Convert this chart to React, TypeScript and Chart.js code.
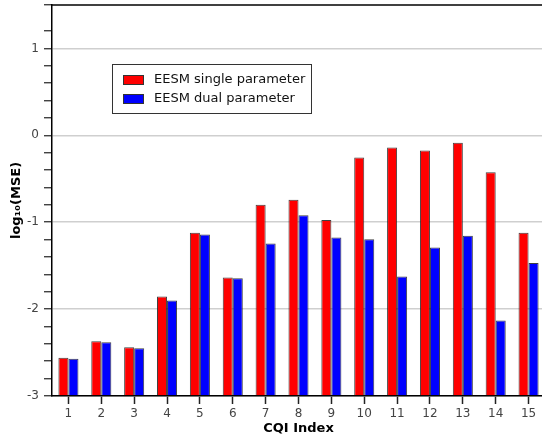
import React, { useEffect, useRef } from "react";
import { Chart, registerables } from "chart.js";

Chart.register(...registerables);

// CQI indices on the x axis
const cqiIndex = ["1", "2", "3", "4", "5", "6", "7", "8", "9", "10", "11", "12", "13", "14", "15"];

// log10 of the mean squared error per CQI index
const singleParameter = [-2.56, -2.37, -2.44, -1.855, -1.12, -1.635, -0.80, -0.74, -0.975, -0.255, -0.14, -0.175, -0.085, -0.425, -1.12];
const dualParameter = [-2.57, -2.38, -2.45, -1.90, -1.14, -1.645, -1.245, -0.92, -1.175, -1.195, -1.625, -1.29, -1.155, -2.13, -1.47];

const seriesLabels = ["EESM single parameter", "EESM dual parameter"];
const seriesColors = ["#ff0000", "#0000ff"];

const yMin = -3;
const yMax = 1.5;
const yMinorStep = 0.2;

const FONT = "'DejaVu Sans', Verdana, sans-serif";

const isInteger = (v: number) => Math.abs(v - Math.round(v)) < 1e-6;

// Boxed legend inside the plot area plus the top frame line
const framePlugin = {
  id: "frameAndLegend",
  afterDraw(chart: any) {
    const { ctx, chartArea } = chart;
    ctx.save();

    // top frame
    ctx.strokeStyle = "#000";
    ctx.lineWidth = 1.5;
    ctx.beginPath();
    ctx.moveTo(chartArea.left, chartArea.top);
    ctx.lineTo(chartArea.right, chartArea.top);
    ctx.stroke();

    // legend box
    const bx = 112.5;
    const by = 64.5;
    const bw = 199;
    const bh = 49;
    ctx.fillStyle = "#fff";
    ctx.fillRect(bx, by, bw, bh);
    ctx.strokeStyle = "#333";
    ctx.lineWidth = 1;
    ctx.strokeRect(bx, by, bw, bh);

    ctx.font = `13px ${FONT}`;
    ctx.textBaseline = "middle";
    ctx.textAlign = "left";
    chart.data.datasets.forEach((ds: any, i: number) => {
      const cy = 80 + i * 19;
      ctx.fillStyle = ds.backgroundColor;
      ctx.fillRect(123.5, cy - 4.5, 20, 9);
      ctx.strokeStyle = "#333";
      ctx.strokeRect(123.5, cy - 4.5, 20, 9);
      ctx.fillStyle = "#111";
      ctx.fillText(ds.label, 154, cy);
    });

    ctx.restore();
  },
};

export default function App() {
  const canvasRef = useRef<HTMLCanvasElement | null>(null);

  useEffect(() => {
    if (!canvasRef.current) return;
    const chart = new Chart(canvasRef.current, {
      type: "bar",
      data: {
        labels: cqiIndex,
        datasets: [
          {
            label: seriesLabels[0],
            data: singleParameter,
            backgroundColor: seriesColors[0],
            borderColor: "rgba(30,30,30,0.85)",
            borderWidth: 1,
            base: yMin,
          } as any,
          {
            label: seriesLabels[1],
            data: dualParameter,
            backgroundColor: seriesColors[1],
            borderColor: "rgba(30,30,30,0.85)",
            borderWidth: 1,
            base: yMin,
          } as any,
        ],
      },
      options: {
        responsive: false,
        animation: false,
        layout: { padding: { top: 5, left: 0, right: 0, bottom: 0 } },
        datasets: { bar: { categoryPercentage: 0.61, barPercentage: 1 } },
        plugins: {
          legend: { display: false },
          tooltip: { enabled: false },
        },
        scales: {
          x: {
            offset: true,
            grid: {
              offset: false,
              drawOnChartArea: false,
              tickLength: 8,
              tickColor: "#222",
              tickWidth: 1.5,
            },
            border: { color: "#000", width: 1.5 },
            ticks: {
              color: "#444",
              font: { family: FONT, size: 12 },
              padding: 3,
              maxRotation: 0,
              autoSkip: false,
            },
            title: {
              display: true,
              text: "CQI Index",
              color: "#000",
              font: { family: FONT, size: 13, weight: "bold" },
              padding: 0,
            },
            afterFit: (scale: any) => {
              scale.height = 40;
              scale.paddingLeft = 0;
              scale.paddingRight = 0;
            },
          },
          y: {
            min: yMin,
            max: yMax,
            ticks: {
              stepSize: yMinorStep,
              autoSkip: false,
              color: "#444",
              font: { family: FONT, size: 12 },
              padding: 5,
              callback: (v: any) => (isInteger(Number(v)) ? String(Math.round(Number(v))) : ""),
            },
            grid: {
              color: (ctx: any) =>
                ctx.tick && isInteger(ctx.tick.value) && ctx.tick.value < yMax ? "#cfcfcf" : "rgba(0,0,0,0)",
              lineWidth: 1.5,
              tickLength: 8,
              tickColor: "#222",
              tickWidth: 1.2,
            },
            border: { color: "#000", width: 1.5 },
            title: {
              display: true,
              text: "log₁₀(MSE)",
              color: "#000",
              font: { family: FONT, size: 13, weight: "bold" },
              padding: { top: 9, bottom: 0 },
            },
            afterFit: (scale: any) => {
              scale.width = 52;
              scale.paddingTop = 0;
              scale.paddingBottom = 0;
            },
          },
        },
      },
      plugins: [framePlugin],
    });
    return () => chart.destroy();
  }, []);

  return (
    <div
      style={{
        position: "fixed",
        left: 0,
        top: 0,
        width: 542,
        height: 436,
        overflow: "hidden",
        background: "#fff",
      }}
    >
      <canvas ref={canvasRef} width={545} height={436} style={{ display: "block" }} />
    </div>
  );
}
